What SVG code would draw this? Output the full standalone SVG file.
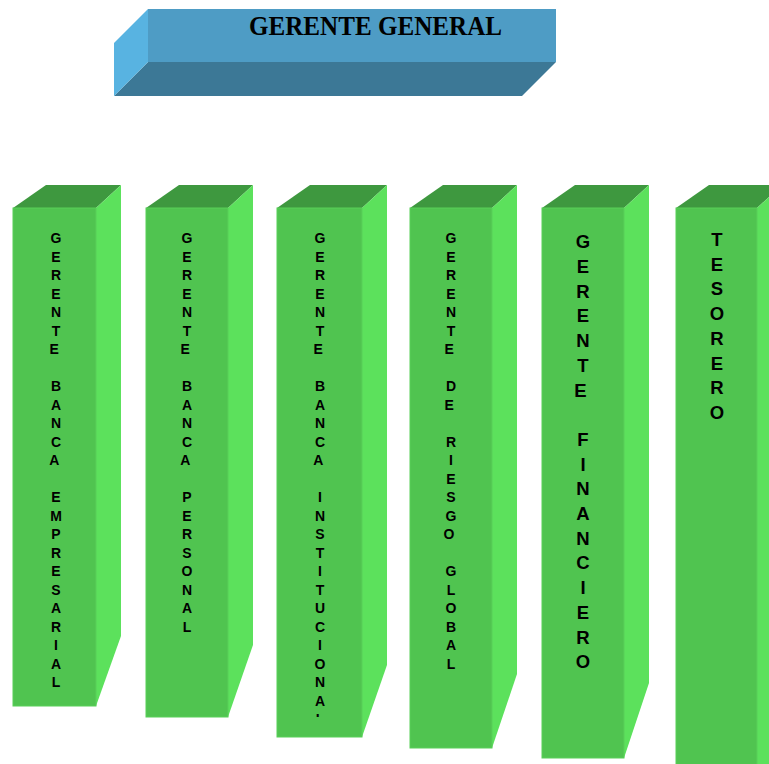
<svg xmlns="http://www.w3.org/2000/svg" width="769" height="764" viewBox="0 0 769 764">
  <style>
    .b-front { fill: #4E9CC5; }
    .b-bottom { fill: #3C7896; }
    .b-side { fill: #58B3E1; }
    .g-front { fill: #50C450; stroke: #58D058; stroke-width: 1; }
    .g-side { fill: #5CE15C; }
    .g-top { fill: #3E983F; }
    .title { font-family: "Liberation Serif", "Times New Roman", serif; font-weight: bold; font-size: 26.5px; fill: #000; }
    .lbl { font-family: "Liberation Sans", Arial, sans-serif; font-weight: bold; fill: #000; text-anchor: middle; }
    .sm { font-size: 14px; }
    .lg { font-size: 18.5px; }
  </style>
  <defs>
    <clipPath id="clip-inst">
      <rect x="277" y="208" width="85" height="509"/>
    </clipPath>
  </defs>
  <rect width="769" height="764" fill="#FFFFFF"/>

  <!-- top box -->
  <g id="gerente-general">
    <polygon class="b-front" points="148,9 556,9 556,62 148,62"/>
    <polygon class="b-bottom" points="148,62 556,62 522,96 114,96"/>
    <polygon class="b-side" points="114,43 148,9 148,62 114,96"/>
    <text class="title" x="249" y="35" textLength="253" lengthAdjust="spacingAndGlyphs">GERENTE GENERAL</text>
  </g>

  <!-- column 1 -->
  <g id="banca-empresarial">
    <polygon class="g-top" points="13,208 46,185 121,185 96,208"/>
    <polygon class="g-side" points="96,208 121,185 121,636 96,706"/>
    <rect class="g-front" x="13" y="208" width="83" height="498"/>
    <text class="lbl sm" x="56" y="243.3">
      <tspan x="56">G</tspan><tspan x="56" dy="18.5">E</tspan><tspan x="56" dy="18.5">R</tspan><tspan x="56" dy="18.5">E</tspan><tspan x="56" dy="18.5">N</tspan><tspan x="56" dy="18.5">T</tspan><tspan x="56" dy="18.5">E</tspan>
      <tspan x="56" dy="37">B</tspan><tspan x="56" dy="18.5">A</tspan><tspan x="56" dy="18.5">N</tspan><tspan x="56" dy="18.5">C</tspan><tspan x="56" dy="18.5">A</tspan>
      <tspan x="56" dy="37">E</tspan><tspan x="56" dy="18.5">M</tspan><tspan x="56" dy="18.5">P</tspan><tspan x="56" dy="18.5">R</tspan><tspan x="56" dy="18.5">E</tspan><tspan x="56" dy="18.5">S</tspan><tspan x="56" dy="18.5">A</tspan><tspan x="56" dy="18.5">R</tspan><tspan x="56" dy="18.5">I</tspan><tspan x="56" dy="18.5">A</tspan><tspan x="56" dy="18.5">L</tspan>
    </text>
  </g>

  <!-- column 2 -->
  <g id="banca-personal">
    <polygon class="g-top" points="146,208 179,185 253,185 228,208"/>
    <polygon class="g-side" points="228,208 253,185 253,645 228,717"/>
    <rect class="g-front" x="146" y="208" width="82" height="509"/>
    <text class="lbl sm" x="187" y="243.3">
      <tspan x="187">G</tspan><tspan x="187" dy="18.5">E</tspan><tspan x="187" dy="18.5">R</tspan><tspan x="187" dy="18.5">E</tspan><tspan x="187" dy="18.5">N</tspan><tspan x="187" dy="18.5">T</tspan><tspan x="187" dy="18.5">E</tspan>
      <tspan x="187" dy="37">B</tspan><tspan x="187" dy="18.5">A</tspan><tspan x="187" dy="18.5">N</tspan><tspan x="187" dy="18.5">C</tspan><tspan x="187" dy="18.5">A</tspan>
      <tspan x="187" dy="37">P</tspan><tspan x="187" dy="18.5">E</tspan><tspan x="187" dy="18.5">R</tspan><tspan x="187" dy="18.5">S</tspan><tspan x="187" dy="18.5">O</tspan><tspan x="187" dy="18.5">N</tspan><tspan x="187" dy="18.5">A</tspan><tspan x="187" dy="18.5">L</tspan>
    </text>
  </g>

  <!-- column 3 -->
  <g id="banca-institucional">
    <polygon class="g-top" points="277,208 310,185 387,185 362,208"/>
    <polygon class="g-side" points="362,208 387,185 387,665 362,737"/>
    <rect class="g-front" x="277" y="208" width="85" height="529"/>
    <text class="lbl sm" x="320" y="243.3" clip-path="url(#clip-inst)">
      <tspan x="320">G</tspan><tspan x="320" dy="18.5">E</tspan><tspan x="320" dy="18.5">R</tspan><tspan x="320" dy="18.5">E</tspan><tspan x="320" dy="18.5">N</tspan><tspan x="320" dy="18.5">T</tspan><tspan x="320" dy="18.5">E</tspan>
      <tspan x="320" dy="37">B</tspan><tspan x="320" dy="18.5">A</tspan><tspan x="320" dy="18.5">N</tspan><tspan x="320" dy="18.5">C</tspan><tspan x="320" dy="18.5">A</tspan>
      <tspan x="320" dy="37">I</tspan><tspan x="320" dy="18.5">N</tspan><tspan x="320" dy="18.5">S</tspan><tspan x="320" dy="18.5">T</tspan><tspan x="320" dy="18.5">I</tspan><tspan x="320" dy="18.5">T</tspan><tspan x="320" dy="18.5">U</tspan><tspan x="320" dy="18.5">C</tspan><tspan x="320" dy="18.5">I</tspan><tspan x="320" dy="18.5">O</tspan><tspan x="320" dy="18.5">N</tspan><tspan x="320" dy="18.5">A</tspan><tspan x="320" dy="18.5">L</tspan>
    </text>
  </g>

  <!-- column 4 -->
  <g id="riesgo-global">
    <polygon class="g-top" points="410,208 443,185 517,185 492,208"/>
    <polygon class="g-side" points="492,208 517,185 517,674 492,748"/>
    <rect class="g-front" x="410" y="208" width="82" height="540"/>
    <text class="lbl sm" x="451" y="243.3">
      <tspan x="451">G</tspan><tspan x="451" dy="18.5">E</tspan><tspan x="451" dy="18.5">R</tspan><tspan x="451" dy="18.5">E</tspan><tspan x="451" dy="18.5">N</tspan><tspan x="451" dy="18.5">T</tspan><tspan x="451" dy="18.5">E</tspan>
      <tspan x="451" dy="37">D</tspan><tspan x="451" dy="18.5">E</tspan>
      <tspan x="451" dy="37">R</tspan><tspan x="451" dy="18.5">I</tspan><tspan x="451" dy="18.5">E</tspan><tspan x="451" dy="18.5">S</tspan><tspan x="451" dy="18.5">G</tspan><tspan x="451" dy="18.5">O</tspan>
      <tspan x="451" dy="37">G</tspan><tspan x="451" dy="18.5">L</tspan><tspan x="451" dy="18.5">O</tspan><tspan x="451" dy="18.5">B</tspan><tspan x="451" dy="18.5">A</tspan><tspan x="451" dy="18.5">L</tspan>
    </text>
  </g>

  <!-- column 5 -->
  <g id="gerente-financiero">
    <polygon class="g-top" points="542,208 575,185 649,185 624,208"/>
    <polygon class="g-side" points="624,208 649,185 649,683 624,758"/>
    <rect class="g-front" x="542" y="208" width="82" height="550"/>
    <text class="lbl lg" x="583" y="248.3">
      <tspan x="583">G</tspan><tspan x="583" dy="24.7">E</tspan><tspan x="583" dy="24.7">R</tspan><tspan x="583" dy="24.7">E</tspan><tspan x="583" dy="24.7">N</tspan><tspan x="583" dy="24.7">T</tspan><tspan x="583" dy="24.7">E</tspan>
      <tspan x="583" dy="49.4">F</tspan><tspan x="583" dy="24.7">I</tspan><tspan x="583" dy="24.7">N</tspan><tspan x="583" dy="24.7">A</tspan><tspan x="583" dy="24.7">N</tspan><tspan x="583" dy="24.7">C</tspan><tspan x="583" dy="24.7">I</tspan><tspan x="583" dy="24.7">E</tspan><tspan x="583" dy="24.7">R</tspan><tspan x="583" dy="24.7">O</tspan>
    </text>
  </g>

  <!-- column 6 (runs past the lower edge) -->
  <g id="tesorero">
    <polygon class="g-top" points="676,208 709,185 782,185 757,208"/>
    <polygon class="g-side" points="757,208 782,185 782,730 757,805"/>
    <rect class="g-front" x="676" y="208" width="81" height="597"/>
    <text class="lbl lg" x="717" y="246">
      <tspan x="717">T</tspan><tspan x="717" dy="24.7">E</tspan><tspan x="717" dy="24.7">S</tspan><tspan x="717" dy="24.7">O</tspan><tspan x="717" dy="24.7">R</tspan><tspan x="717" dy="24.7">E</tspan><tspan x="717" dy="24.7">R</tspan><tspan x="717" dy="24.7">O</tspan>
    </text>
  </g>
</svg>
